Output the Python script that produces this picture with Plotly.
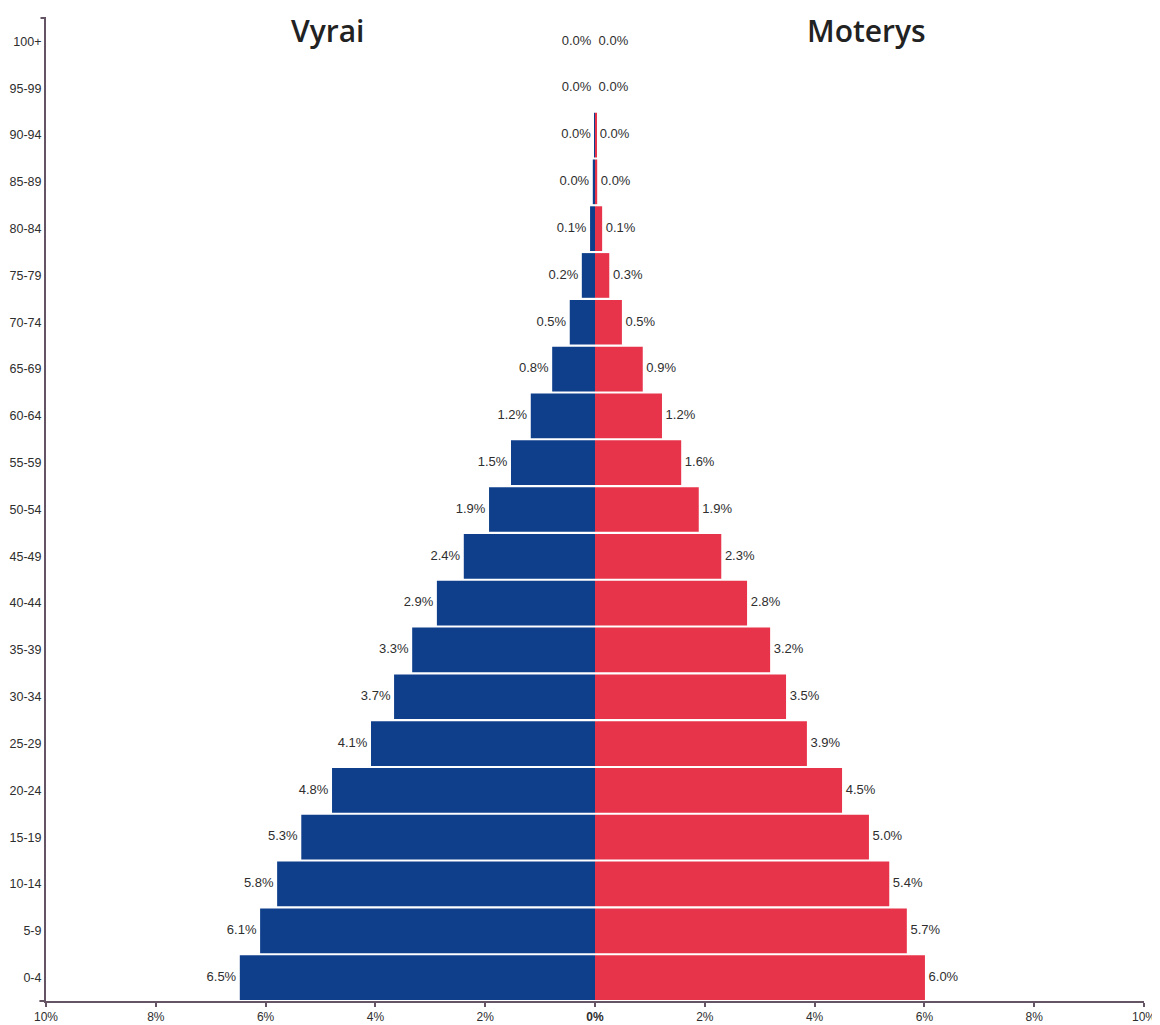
import plotly.graph_objects as go

age_groups = ["0-4", "5-9", "10-14", "15-19", "20-24", "25-29", "30-34", "35-39",
              "40-44", "45-49", "50-54", "55-59", "60-64", "65-69", "70-74", "75-79",
              "80-84", "85-89", "90-94", "95-99", "100+"]
men = [6.47, 6.10, 5.79, 5.35, 4.79, 4.08, 3.66, 3.33, 2.88, 2.39, 1.93, 1.53, 1.17,
       0.78, 0.46, 0.24, 0.09, 0.04, 0.01, 0.0, 0.0]
women = [6.01, 5.68, 5.36, 4.99, 4.50, 3.86, 3.48, 3.19, 2.77, 2.30, 1.89, 1.57, 1.22,
         0.87, 0.49, 0.26, 0.13, 0.04, 0.02, 0.0, 0.0]
x_ticks = [-10, -8, -6, -4, -2, 0, 2, 4, 6, 8, 10]
x_tick_labels = ["10%", "8%", "6%", "4%", "2%", "<b>0%</b>", "2%", "4%", "6%", "8%", "10%"]
title_men = "Vyrai"
title_women = "Moterys"

BLUE = "#0f3f8b"
RED = "#e8344a"
AXIS = "#645464"
TXT = "#2e2e2e"
LBL_FONT = dict(family="Liberation Sans, Arial", size=13, color=TXT)
YTICK_FONT = dict(family="Liberation Sans, Arial", size=12.5, color=TXT)
XTICK_FONT = dict(family="Liberation Sans, Arial", size=12, color=TXT)
NBSP = "\u00a0"

fig = go.Figure()
fig.add_trace(go.Bar(
    y=age_groups, x=[-v for v in men], orientation="h",
    marker=dict(color=BLUE, line=dict(width=0)),
    name=title_men, showlegend=False, hoverinfo="skip",
))
fig.add_trace(go.Bar(
    y=age_groups, x=women, orientation="h",
    marker=dict(color=RED, line=dict(width=0)),
    name=title_women, showlegend=False, hoverinfo="skip",
))
# value labels
fig.add_trace(go.Scatter(
    y=age_groups, x=[-v for v in men], mode="text",
    text=[f"{v:.1f}%{NBSP}" for v in men], textposition="middle left",
    textfont=LBL_FONT, cliponaxis=False, showlegend=False, hoverinfo="skip",
))
fig.add_trace(go.Scatter(
    y=age_groups, x=women, mode="text",
    text=[f"{NBSP}{v:.1f}%" for v in women], textposition="middle right",
    textfont=LBL_FONT, cliponaxis=False, showlegend=False, hoverinfo="skip",
))

# the page body has an 8px margin, so the figure is sized to fill the rest of the window
fig.update_layout(
    width=1152, height=1017,
    margin=dict(l=38, r=16, t=10, b=24),
    paper_bgcolor="white", plot_bgcolor="white",
    barmode="relative", bargap=0.045,
    xaxis=dict(range=[-10, 10], tickvals=x_ticks, ticktext=x_tick_labels,
               showline=True, linecolor=AXIS, linewidth=2, ticks="outside",
               ticklen=4, tickwidth=1.5, tickcolor=AXIS, showgrid=False,
               zeroline=False, fixedrange=True, automargin=False,
               tickfont=XTICK_FONT),
    yaxis=dict(categoryorder="array", categoryarray=age_groups, range=[-0.5, 20.5],
               showline=True, linecolor=AXIS, linewidth=2, ticks="", ticklen=0,
               showgrid=False, zeroline=False, fixedrange=True, automargin=False,
               tickfont=YTICK_FONT),
    font=dict(family="Liberation Sans, Arial"),
    annotations=[
        dict(text=title_men, x=-4.88, xref="x", y=0.987, yref="paper",
             showarrow=False, xanchor="center", yanchor="middle",
             font=dict(family="Open Sans, Noto Sans", size=30, color="#222", weight=600)),
        dict(text=title_women, x=4.95, xref="x", y=0.987, yref="paper",
             showarrow=False, xanchor="center", yanchor="middle",
             font=dict(family="Open Sans, Noto Sans", size=30, color="#222", weight=600)),
    ],
    shapes=[
        dict(type="line", xref="paper", yref="paper", x0=-0.005, x1=0, y0=1, y1=1,
             line=dict(color=AXIS, width=2)),
        dict(type="line", xref="paper", yref="paper", x0=-0.006, x1=0, y0=0, y1=0,
             line=dict(color=AXIS, width=2)),
    ],
)

fig.write_html("out.html")
